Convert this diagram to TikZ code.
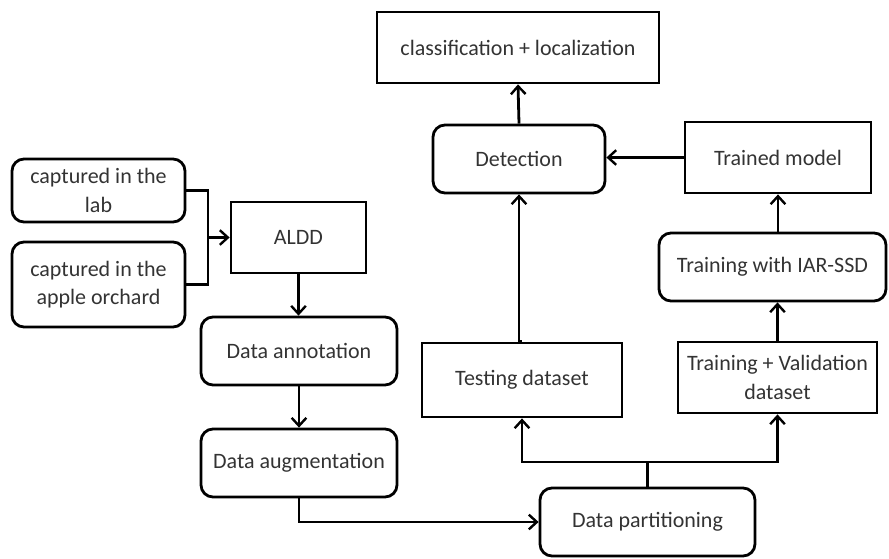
\documentclass[tikz,border=0pt]{standalone}
\usepackage{fontspec}
\setmainfont{Carlito}
\usetikzlibrary{arrows.meta}
\begin{document}
\begin{tikzpicture}[x=0.75pt,y=-0.75pt,
  box/.style={draw, line width=2.1pt, align=center, inner sep=2pt, text=black!80,
    font=\fontsize{16.5}{21.5}\selectfont},
  sbox/.style={box},
  rbox/.style={box, rounded corners=9pt},
  conn/.style={line width=2.1pt},
  arr/.style={conn, -{Straight Barb[length=6pt,width=11pt,line width=1.8pt]}}]
\useasboundingbox (0,0) rectangle (889,558);

\node[sbox, minimum width=211.5pt, minimum height=53.25pt] (cls) at (518,47.5) {classification + localization};
\node[rbox, minimum width=129pt, minimum height=51pt] (det) at (519,159) {Detection};
\node[sbox, minimum width=139.5pt, minimum height=53.25pt] (trained) at (778,157.5) {Trained model};
\node[rbox, minimum width=170.25pt, minimum height=51pt] (iar) at (772.5,267) {Training with IAR-SSD};
\node[sbox, minimum width=149.25pt, minimum height=53.25pt] (tv) at (777.5,377.5) {Training + Validation\\dataset};
\node[sbox, minimum width=150pt, minimum height=55.5pt] (test) at (522,380) {Testing dataset};
\node[rbox, minimum width=161.25pt, minimum height=51pt] (part) at (647.5,522) {Data partitioning};
\node[sbox, minimum width=101.25pt, minimum height=53.25pt] (aldd) at (298.5,237.5) {ALDD};
\node[rbox, minimum width=129.75pt, minimum height=47.25pt] (lab) at (98.5,190.5) {captured in the\\lab};
\node[rbox, minimum width=129.75pt, minimum height=63.75pt] (orch) at (98.5,284.5) {captured in the\\apple orchard};
\node[rbox, minimum width=147pt, minimum height=51pt] (ann) at (299,351) {Data annotation};
\node[rbox, minimum width=147pt, minimum height=51pt] (aug) at (299,463) {Data augmentation};

\coordinate (m) at (208,237.5);
\coordinate (b) at (647.5,462);

\draw[conn] (lab.east) -| (m) |- (orch.east);
\draw[arr] (m) -- (aldd.west);
\draw[arr] (aldd.south) -- (aldd.south |- ann.north);
\draw[arr] (ann.south) -- (aug.north);
\draw[arr] (aug.south) |- (part.west);
\draw[conn] (part.north) -- (b);
\draw[arr] (b) -| (test.south);
\draw[arr] (b) -| (tv.south);
\draw[arr] (test.north) -- (test.north -| det.south) -- (det.south);
\draw[arr] (det.north) -- (cls.south);
\draw[arr] (trained.west) -- (trained.west -| det.east);
\draw[arr] (iar.north -| trained.south) -- (trained.south);
\draw[arr] (tv.north) -- (tv.north |- iar.south);
\end{tikzpicture}
\end{document}
